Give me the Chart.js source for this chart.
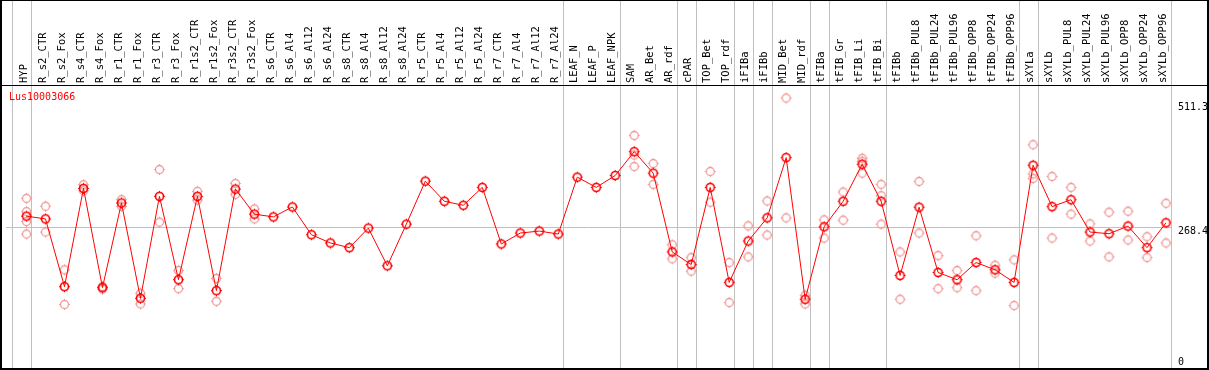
<!DOCTYPE html>
<html>
<head>
<meta charset="utf-8">
<script src="https://cdn.jsdelivr.net/npm/chart.js@4.4.1/dist/chart.umd.min.js"></script>
<style>
  html, body { margin: 0; padding: 0; background: #fff; }
  canvas { display: block; }
</style>
</head>
<body>
<canvas id="chart" width="1209" height="370"></canvas>
<script>
const seriesName = "Lus10003066";

const categories = [
  "HYP", "R_s2_CTR", "R_s2_Fox", "R_s4_CTR", "R_s4_Fox", "R_r1_CTR", "R_r1_Fox",
  "R_r3_CTR", "R_r3_Fox", "R_r1s2_CTR", "R_r1s2_Fox", "R_r3s2_CTR", "R_r3s2_Fox",
  "R_s6_CTR", "R_s6_Al4", "R_s6_Al12", "R_s6_Al24", "R_s8_CTR", "R_s8_Al4",
  "R_s8_Al12", "R_s8_Al24", "R_r5_CTR", "R_r5_Al4", "R_r5_Al12", "R_r5_Al24",
  "R_r7_CTR", "R_r7_Al4", "R_r7_Al12", "R_r7_Al24", "LEAF_N", "LEAF_P", "LEAF_NPK",
  "SAM", "AR_Bet", "AR_rdf", "cPAR", "TOP_Bet", "TOP_rdf", "iFIBa", "iFIBb",
  "MID_Bet", "MID_rdf", "tFIBa", "tFIB_Gr", "tFIB_Li", "tFIB_Bi", "tFIBb",
  "tFIBb_PUL8", "tFIBb_PUL24", "tFIBb_PUL96", "tFIBb_OPP8", "tFIBb_OPP24", "tFIBb_OPP96",
  "sXYLa", "sXYLb", "sXYLb_PUL8", "sXYLb_PUL24", "sXYLb_PUL96", "sXYLb_OPP8",
  "sXYLb_OPP24", "sXYLb_OPP96"
];

// mean expression per sample
const meanValues = [
  289.8, 284.5, 151.6, 344.3, 149.7, 315.7, 128.8, 328.7, 165.2, 328.7, 143.8, 342.9, 293.7,
  288.4, 307.9, 253.4, 237.3, 228.1, 266.4, 192.5, 274.2, 358.5, 319.0, 311.2, 346.2,
  235.3, 256.7, 260.6, 254.8, 366.3, 346.2, 369.6,
  416.3, 374.1, 219.7, 195.0, 346.2, 160.0, 241.1, 286.5,
  404.6, 126.9, 269.0, 319.0, 391.6, 319.0, 173.6,
  307.3, 179.4, 165.2, 198.9, 184.7, 160.0,
  389.6, 308.5, 322.1, 258.7, 255.4, 270.3, 228.1, 276.8
];

// individual replicates per sample (empty where none are shown)
const replicateValues = [
  [324.8, 298.8, 279.3, 254.8], [309.3, 258.7], [184.7, 116.6], [351.3, 339.6], [151.6, 146.9],
  [322.1, 309.3], [138.6, 117.7], [381.3, 278.1], [183.3, 147.7], [338.5, 321.5],
  [167.8, 123.0], [354.0, 332.6], [304.0, 284.5],
  [], [], [], [], [], [], [], [], [], [], [], [], [], [], [], [], [], [], [],
  [448.0, 409.7, 387.1], [393.0, 352.1], [233.9, 206.1], [208.6, 182.0], [377.4, 317.1],
  [198.9, 120.5], [270.9, 210.0], [319.6, 252.8],
  [521.4, 286.5], [134.7, 117.7], [282.6, 247.0], [337.1, 282.0], [403.3, 397.4, 374.1],
  [352.1, 329.9, 274.2], [219.7, 126.9],
  [357.9, 256.7], [212.5, 147.7], [183.3, 149.7], [251.5, 143.8], [193.7, 178.1], [204.2, 114.6],
  [429.9, 372.7, 363.8], [367.7, 247.0], [346.2, 293.7], [274.8, 241.1], [297.6, 210.0],
  [299.5, 243.1], [249.5, 208.6], [315.1, 237.3]
];

const yTickValues = [0, 268.4, 511.3];

// index of the last sample in each group (-1 = line before the first)
const groupEnds = [-1, 0, 28, 31, 34, 35, 37, 38, 39, 41, 42, 45, 52, 53, 60];

const RED = "#ff0000";
const PINK = "#f09a9a";
const GREY = "#c0c0c0";
const MONO = "'DejaVu Sans Mono', monospace";

function makeMarker(color, lw) {
  const c = document.createElement("canvas");
  c.width = 13;
  c.height = 13;
  const g = c.getContext("2d");
  g.strokeStyle = color;
  g.fillStyle = color;
  g.lineWidth = lw;
  g.beginPath();
  g.arc(6.5, 6.5, 4, 0, Math.PI * 2);
  g.stroke();
  g.fillRect(6, 1, 1, 1.5);
  g.fillRect(6, 10.5, 1, 1.5);
  g.fillRect(1, 6, 1.5, 1);
  g.fillRect(10.5, 6, 1.5, 1);
  return c;
}

const meanPoints = meanValues.map((v, i) => ({ x: i, y: v }));
const repPoints = [];
replicateValues.forEach((reps, i) => reps.forEach((v) => repPoints.push({ x: i, y: v })));

const framePlugin = {
  id: "frame",
  beforeDatasetsDraw(chart) {
    const ctx = chart.ctx;
    const xs = chart.scales.x;
    ctx.save();
    ctx.strokeStyle = GREY;
    ctx.lineWidth = 1;
    groupEnds.forEach((g) => {
      const px = Math.round(xs.getPixelForValue(g + 0.25)) + 0.5;
      ctx.beginPath();
      ctx.moveTo(px, 0);
      ctx.lineTo(px, chart.height);
      ctx.stroke();
    });
    ctx.restore();
  },
  afterDraw(chart) {
    const ctx = chart.ctx;
    const ys = chart.scales.y;
    const area = chart.chartArea;
    ctx.save();
    // outer frame and header separator
    ctx.strokeStyle = "#000";
    ctx.lineWidth = 2;
    ctx.strokeRect(1, 0, chart.width - 2, chart.height - 1);
    ctx.lineWidth = 1;
    ctx.beginPath();
    ctx.moveTo(1, area.top - 0.5);
    ctx.lineTo(chart.width, area.top - 0.5);
    ctx.stroke();
    // right-hand value labels
    ctx.font = "10px " + MONO;
    ctx.fillStyle = "#000";
    ctx.textAlign = "left";
    ctx.textBaseline = "middle";
    yTickValues.forEach((v) => {
      const py = Math.min(ys.getPixelForValue(v) + 4.5, 362);
      ctx.fillText(String(v), area.right + 7, py);
    });
    // series name
    ctx.fillStyle = RED;
    ctx.fillText(chart.data.datasets[0].label, 9, 97);
    ctx.restore();
  }
};

new Chart(document.getElementById("chart"), {
  type: "line",
  data: {
    datasets: [
      {
        label: seriesName,
        data: meanPoints,
        borderColor: RED,
        borderWidth: 1,
        pointStyle: makeMarker(RED, 1.6),
        pointRadius: 5,
        tension: 0,
        order: 0
      },
      {
        label: seriesName + " replicates",
        data: repPoints,
        showLine: false,
        borderColor: PINK,
        pointStyle: makeMarker(PINK, 1.3),
        pointRadius: 5,
        order: 1
      }
    ]
  },
  options: {
    responsive: false,
    animation: false,
    devicePixelRatio: 1,
    layout: { padding: { left: 2, right: 0, top: 0, bottom: 4 } },
    plugins: { legend: { display: false }, tooltip: { enabled: false } },
    scales: {
      x: {
        type: "linear",
        position: "top",
        min: -1.08,
        max: 60.263,
        afterBuildTicks: (scale) => {
          scale.ticks = categories.map((c, i) => ({ value: i }));
        },
        afterFit: (scale) => {
          scale.height = 86;
        },
        grid: { display: false, drawTicks: false },
        border: { display: false },
        ticks: {
          autoSkip: false,
          minRotation: 90,
          maxRotation: 90,
          padding: 3,
          labelOffset: 10,
          color: "#000",
          font: { family: MONO, size: 10.5 },
          callback: (v) => categories[v]
        }
      },
      y: {
        position: "right",
        min: 0,
        max: 545,
        afterBuildTicks: (scale) => {
          scale.ticks = yTickValues.map((v) => ({ value: v }));
        },
        afterFit: (scale) => { scale.width = 38; },
        grid: {
          drawTicks: false,
          color: (c) => (c.tick && c.tick.value === 268.4 ? GREY : "rgba(0,0,0,0)")
        },
        border: { display: false },
        ticks: { display: false }
      }
    }
  },
  plugins: [framePlugin]
});
</script>
</body>
</html>
